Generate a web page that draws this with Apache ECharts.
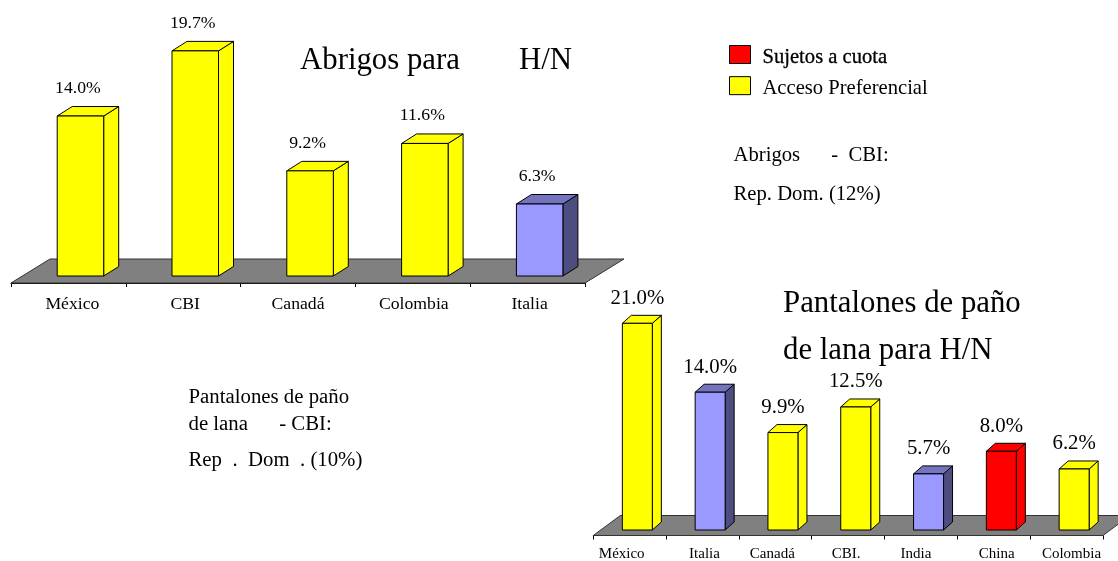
<!DOCTYPE html>
<html>
<head>
<meta charset="utf-8">
<style>
html,body{margin:0;padding:0;background:#fff;}
#main{width:1118px;height:561px;}
</style>
<script src="https://cdn.jsdelivr.net/npm/echarts@6/dist/echarts.min.js"></script>
</head>
<body>
<div id="main"></div>
<script>
// Abrigos para H/N
let cats1 = ['México','CBI','Canadá','Colombia','Italia'];
let vals1 = [14.0,19.7,9.2,11.6,6.3];
let tipo1 = ['pref','pref','pref','pref','otro'];
// Pantalones de pano para H/N
let cats2 = ['México','Italia','Canadá','CBI.','India','China','Colombia'];
let vals2 = [21.0,14.0,9.9,12.5,5.7,8.0,6.2];
let tipo2 = ['pref','otro','pref','pref','otro','cuota','pref'];

let titulo1 = ['Abrigos para','H/N'];
let titulo2 = ['Pantalones de paño','de lana para H/N'];
let nota1 = ['Abrigos      -  CBI:','Rep. Dom. (12%)'];
let nota2 = ['Pantalones de paño','de lana      - CBI:','Rep  .  Dom  . (10%)'];
let leyenda = ['Sujetos a cuota','Acceso Preferencial'];

const SERIF = '"Liberation Serif"';
// front, top, side colors
const COL = {
  pref:['#ffff00','#ffff00','#ffff00'],
  cuota:['#ff0000','#ff0000','#ff0000'],
  otro:['#9999ff','#7373bf','#4d4d80']
};
// how far each axis label sits off the band center
const nudge1 = [4,2,0,1,2];
const nudge2 = [-8,2,-3,-2,-5,3,5];

function barRender(cfg,tipo){
  return function(params,api){
    let i = api.value(0), v = api.value(1);
    let top = api.coord([i,v]);
    let base = api.coord([i,0]);
    let band = api.size([1,0])[0];
    let w = band*cfg.barW;
    let x0 = top[0] + band*cfg.shift - w/2, x1 = x0 + w;
    let dx = cfg.dx, dy = cfg.dy;
    let c = COL[tipo[params.dataIndex]];
    let line = {stroke:'#000',lineWidth:1};
    return {
      type:'group',
      children:[
        {type:'polygon',shape:{points:[[x1,top[1]],[x1+dx,top[1]-dy],[x1+dx,base[1]-dy],[x1,base[1]]]},
         style:Object.assign({fill:c[2]},line)},
        {type:'polygon',shape:{points:[[x0,top[1]],[x0+dx,top[1]-dy],[x1+dx,top[1]-dy],[x1,top[1]]]},
         style:Object.assign({fill:c[1]},line)},
        {type:'rect',shape:{x:x0,y:top[1],width:w,height:base[1]-top[1]},
         style:Object.assign({fill:c[0]},line)},
        {type:'text',x:(x0+x1)/2 + cfg.lblX,y:top[1]-cfg.lblY,
         style:{text:v.toFixed(1)+'%',fill:'#000',font:cfg.lblSize+'px '+SERIF,align:'center',verticalAlign:'middle'}}
      ]
    };
  };
}

function floorRender(cfg){
  return function(params){
    let g = params.coordSys;
    let y = g.y + g.height + cfg.off;
    let x0 = g.x, x1 = g.x + g.width;
    return {
      type:'polygon',
      shape:{points:[[x0,y],[x0+cfg.fdx,y-cfg.fdy],[x1+cfg.fdx,y-cfg.fdy],[x1,y]]},
      style:{fill:'#808080',stroke:'#333',lineWidth:1}
    };
  };
}

function richFor(nudge,size){
  let r = {};
  nudge.forEach((n,i)=>{
    r['n'+i] = {fontFamily:SERIF,fontSize:size,color:'#000',
      padding:n>0 ? [0,0,0,2*n] : [0,-2*n,0,0]};
  });
  return r;
}

function xAxisFor(idx,cats,nudge,size,off,margin){
  return {
    type:'category',gridIndex:idx,data:cats,offset:off,
    axisLine:{show:true,onZero:false,lineStyle:{color:'#000',width:1}},
    axisTick:{show:true,length:4,lineStyle:{color:'#000'}},
    splitLine:{show:false},
    axisLabel:{interval:0,margin:margin,hideOverlap:false,
      formatter:(v,i)=>'{n'+i+'|'+v+'}',rich:richFor(nudge,size)}
  };
}

let cfg1 = {barW:0.405,shift:0.105,dx:15,dy:9.5,lblX:-2.5,lblY:28,lblSize:17.7,off:7,fdx:39,fdy:24};
let cfg2 = {barW:0.412,shift:0.105,dx:9,dy:8,lblX:0,lblY:25,lblSize:20.8,off:5.5,fdx:27,fdy:20};

function noteText(x,y,text,size){
  return {type:'text',x:x,y:y,style:{text:text,fill:'#000',font:size+'px '+SERIF,verticalAlign:'middle'}};
}

let chart = echarts.init(document.getElementById('main'));
chart.setOption({
  animation:false,
  backgroundColor:'#fff',
  grid:[
    {left:11,width:574,top:24.6,height:251.4,outerBoundsMode:'none'},
    {left:593.3,width:509.6,top:293.8,height:236.2,outerBoundsMode:'none'}
  ],
  xAxis:[
    xAxisFor(0,cats1,nudge1,17.7,7,12),
    xAxisFor(1,cats2,nudge2,15,5.5,11)
  ],
  yAxis:[
    {type:'value',gridIndex:0,min:0,max:22,show:false},
    {type:'value',gridIndex:1,min:0,max:24,show:false}
  ],
  legend:{
    left:729,top:45,orient:'vertical',icon:'rect',padding:0,
    itemWidth:21,itemHeight:18,itemGap:8,
    itemStyle:{borderColor:'#000',borderWidth:1},
    formatter:n=>(n===leyenda[0] ? '{b|' : '{a|')+n+'}',
    textStyle:{
      rich:{
        a:{fontFamily:SERIF,fontSize:20.6,color:'#000',padding:[6,0,0,7]},
        b:{fontFamily:SERIF,fontSize:20.6,color:'#000',padding:[6,0,0,7],textBorderColor:'#000',textBorderWidth:0.3}
      }
    },
    data:leyenda
  },
  graphic:[
    noteText(300,60.5,titulo1[0],30.8),
    noteText(519,60.5,titulo1[1],30.8),
    noteText(783,304,titulo2[0],30.8),
    noteText(783,351,titulo2[1],30.8),
    noteText(733.5,156,nota1[0],20.7),
    noteText(733.5,195,nota1[1],20.7),
    noteText(188.5,398,nota2[0],20.8),
    noteText(188.5,425,nota2[1],20.8),
    noteText(188.5,461,nota2[2],20.8)
  ],
  series:[
    {type:'custom',xAxisIndex:0,yAxisIndex:0,z:1,renderItem:floorRender(cfg1),data:[[0,0]],silent:true},
    {type:'custom',xAxisIndex:1,yAxisIndex:1,z:1,renderItem:floorRender(cfg2),data:[[0,0]],silent:true},
    {type:'custom',xAxisIndex:0,yAxisIndex:0,z:3,renderItem:barRender(cfg1,tipo1),
     encode:{x:0,y:1},data:vals1.map((v,i)=>[i,v])},
    {type:'custom',xAxisIndex:1,yAxisIndex:1,z:3,renderItem:barRender(cfg2,tipo2),
     encode:{x:0,y:1},data:vals2.map((v,i)=>[i,v])},
    {type:'custom',name:leyenda[0],xAxisIndex:0,yAxisIndex:0,renderItem:()=>null,data:[],itemStyle:{color:'#ff0000'}},
    {type:'custom',name:leyenda[1],xAxisIndex:0,yAxisIndex:0,renderItem:()=>null,data:[],itemStyle:{color:'#ffff00'}}
  ]
});
</script>
</body>
</html>
